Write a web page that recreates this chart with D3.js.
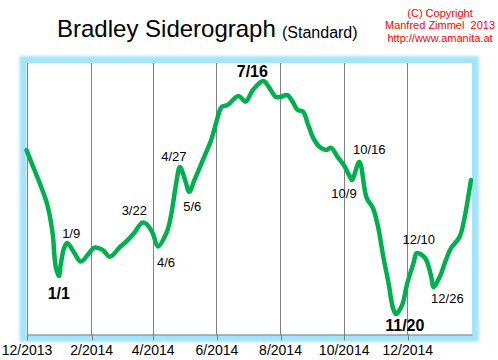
<!DOCTYPE html>
<html>
<head>
<meta charset="utf-8">
<script src="https://cdn.jsdelivr.net/npm/d3@7"></script>
<style>
  body { margin: 0; background: #fff; }
  svg { display: block; font-family: Arial, "Liberation Sans", sans-serif; }
</style>
</head>
<body>
<svg id="chart"></svg>
<script>
'use strict';

// siderograph values (arbitrary units 0..100)
var dates = ['2013-12-01', '2013-12-09', '2013-12-15', '2013-12-21', '2013-12-26', '2013-12-29',
  '2014-01-01', '2014-01-03', '2014-01-06', '2014-01-09', '2014-01-16', '2014-01-22', '2014-01-30',
  '2014-02-04', '2014-02-12', '2014-02-19', '2014-02-28', '2014-03-08', '2014-03-14', '2014-03-22',
  '2014-03-26', '2014-04-01', '2014-04-06', '2014-04-14', '2014-04-17', '2014-04-20', '2014-04-24',
  '2014-04-27', '2014-05-02', '2014-05-06', '2014-05-11', '2014-05-19', '2014-05-27', '2014-06-01',
  '2014-06-06', '2014-06-12', '2014-06-22', '2014-06-29', '2014-07-06', '2014-07-16', '2014-07-23',
  '2014-07-28', '2014-08-02', '2014-08-08', '2014-08-13', '2014-08-18', '2014-08-23', '2014-08-28',
  '2014-09-02', '2014-09-08', '2014-09-14', '2014-09-19', '2014-09-25', '2014-10-02', '2014-10-07',
  '2014-10-09', '2014-10-16', '2014-10-23', '2014-10-29', '2014-11-03', '2014-11-08', '2014-11-13',
  '2014-11-17', '2014-11-20', '2014-11-26', '2014-12-01', '2014-12-07', '2014-12-10', '2014-12-18',
  '2014-12-24', '2014-12-26', '2015-01-01', '2015-01-07', '2015-01-12', '2015-01-20', '2015-01-25',
  '2015-01-31'];
var values = [68.0, 60.3, 54.5, 47.8, 37.5, 25.1,
  21.7, 26.4, 31.9, 33.8, 30.1, 27.0, 30.1,
  32.1, 31.3, 28.8, 32.1, 34.9, 37.4, 41.3,
  40.8, 37.4, 32.5, 37.4, 41.1, 47.2, 57.0,
  61.8, 57.0, 52.6, 57.0, 64.3, 71.7, 78.3,
  83.8, 84.6, 87.9, 85.8, 90.1, 93.4, 90.1,
  87.5, 87.6, 88.2, 85.8, 82.7, 82.1, 77.2,
  72.3, 69.1, 68.0, 68.8, 65.6, 61.9, 58.1,
  57.0, 63.6, 50.4, 46.7, 39.7, 28.7, 19.1,
  10.3, 7.7, 11.0, 19.1, 26.5, 30.1, 28.3,
  21.3, 17.6, 21.3, 27.6, 32.0, 36.0, 43.4,
  57.0];

var tickDates = ['2013-12-01', '2014-02-01', '2014-04-01', '2014-06-01', '2014-08-01', '2014-10-01', '2014-12-01'];

// turning points
var turnDates = ['2014-01-01', '2014-01-09', '2014-03-22', '2014-04-06', '2014-04-27', '2014-05-06',
  '2014-07-16', '2014-10-09', '2014-10-16', '2014-11-20', '2014-12-10', '2014-12-26'];
var turnLabels = ['1/1', '1/9', '3/22', '4/6', '4/27', '5/6', '7/16', '10/9', '10/16', '11/20', '12/10', '12/26'];
var majorTurns = ['1/1', '7/16', '11/20'];

var titleText = 'Bradley Siderograph',
  subTitleText = '(Standard)',
  copyrightLines = ['(C) Copyright', 'Manfred Zimmel  2013', 'http://www.amanita.at'];

// label placement next to each turning point [dx, dy]
var labelOffset = {
  '1/1': [0, 23], '1/9': [4, -5], '3/22': [-8, -8], '4/6': [8, 20],
  '4/27': [-6, -6], '5/6': [3, 19], '7/16': [-11, -4], '10/9': [-8, 18],
  '10/16': [10, -8], '11/20': [9, 17], '12/10': [2, -9], '12/26': [14, 16]
};

var W = 498, H = 360,
  plot = { left: 26.5, right: 472, top: 63, bottom: 335 },
  parse = d3.timeParse('%Y-%m-%d'),
  green = '#00b04f',
  grey = '#808080';

var data = dates.map(function (d, i) { return { date: parse(d), value: values[i] }; });
var byDate = {};
data.forEach(function (d, i) { byDate[dates[i]] = d; });

var x = d3.scaleTime()
  .domain([parse('2013-12-01'), parse('2015-02-01')])
  .range([plot.left, plot.right]);
var y = d3.scaleLinear()
  .domain([0, 100])
  .range([plot.bottom, plot.top]);

var svg = d3.select('#chart')
  .attr('width', W)
  .attr('height', H);

// soft blue frame round the plot
var defs = svg.append('defs');
defs.append('filter')
  .attr('id', 'glow')
  .attr('x', '-10%').attr('y', '-10%').attr('width', '120%').attr('height', '120%')
  .append('feGaussianBlur')
  .attr('stdDeviation', 1.6);

svg.append('rect')
  .attr('x', plot.left)
  .attr('y', plot.top)
  .attr('width', plot.right - plot.left)
  .attr('height', plot.bottom - plot.top)
  .attr('fill', 'none')
  .attr('stroke', '#a3e4fa')
  .attr('stroke-width', 14)
  .attr('filter', 'url(#glow)');

svg.append('rect')
  .attr('x', plot.left)
  .attr('y', plot.top)
  .attr('width', plot.right - plot.left)
  .attr('height', plot.bottom - plot.top - 0.5)
  .attr('fill', '#fff');

// vertical grid lines
svg.append('g')
  .selectAll('line')
  .data(tickDates)
  .enter().append('line')
  .attr('x1', function (d) { return Math.round(x(parse(d))) + 0.5; })
  .attr('x2', function (d) { return Math.round(x(parse(d))) + 0.5; })
  .attr('y1', plot.top)
  .attr('y2', plot.bottom)
  .attr('stroke', grey)
  .attr('stroke-width', 1);

// x axis
var xAxis = svg.append('g')
  .attr('transform', 'translate(0,' + (plot.bottom - 0.5) + ')')
  .call(d3.axisBottom(x)
    .tickValues(tickDates.map(parse))
    .tickFormat(d3.timeFormat('%-m/%Y'))
    .tickSize(6)
    .tickSizeOuter(0)
    .tickPadding(5));
xAxis.select('.domain').attr('stroke', grey);
xAxis.selectAll('.tick line')
  .attr('stroke', grey)
  .attr('transform', function () {
    var t = d3.select(this.parentNode).attr('transform');
    var px = +t.replace(/translate\(([-\d.]+).*/, '$1');
    return 'translate(' + (Math.round(px) + 0.5 - px) + ',0)';
  });
xAxis.selectAll('.tick text')
  .attr('fill', '#000')
  .style('font-size', '14px')
  .style('font-family', 'Arial, "Liberation Sans", sans-serif');

// the siderograph line
var line = d3.line()
  .x(function (d) { return x(d.date); })
  .y(function (d) { return y(d.value); })
  .curve(d3.curveCatmullRom.alpha(0.5));

svg.append('path')
  .datum(data)
  .attr('fill', 'none')
  .attr('stroke', green)
  .attr('stroke-width', 4.5)
  .attr('stroke-linejoin', 'round')
  .attr('stroke-linecap', 'round')
  .attr('d', line);

// turning point labels
svg.append('g')
  .selectAll('text')
  .data(turnLabels)
  .enter().append('text')
  .attr('x', function (d, i) { return x(byDate[turnDates[i]].date) + labelOffset[d][0]; })
  .attr('y', function (d, i) { return y(byDate[turnDates[i]].value) + labelOffset[d][1]; })
  .attr('text-anchor', 'middle')
  .style('font-size', function (d) { return majorTurns.indexOf(d) >= 0 ? '16px' : '13px'; })
  .style('font-weight', function (d) { return majorTurns.indexOf(d) >= 0 ? 'bold' : 'normal'; })
  .text(function (d) { return d; });

// title
svg.append('text')
  .attr('x', 57)
  .attr('y', 37)
  .style('font-size', '24px')
  .text(titleText);
svg.append('text')
  .attr('x', 282)
  .attr('y', 38)
  .style('font-size', '16px')
  .text(subTitleText);

// copyright note
svg.append('g')
  .selectAll('text')
  .data(copyrightLines)
  .enter().append('text')
  .attr('x', 440)
  .attr('y', function (d, i) { return 17 + i * 12.3; })
  .attr('text-anchor', 'middle')
  .attr('fill', '#ff0000')
  .style('font-size', '11px')
  .style('white-space', 'pre')
  .text(function (d) { return d; });
</script>
</body>
</html>
